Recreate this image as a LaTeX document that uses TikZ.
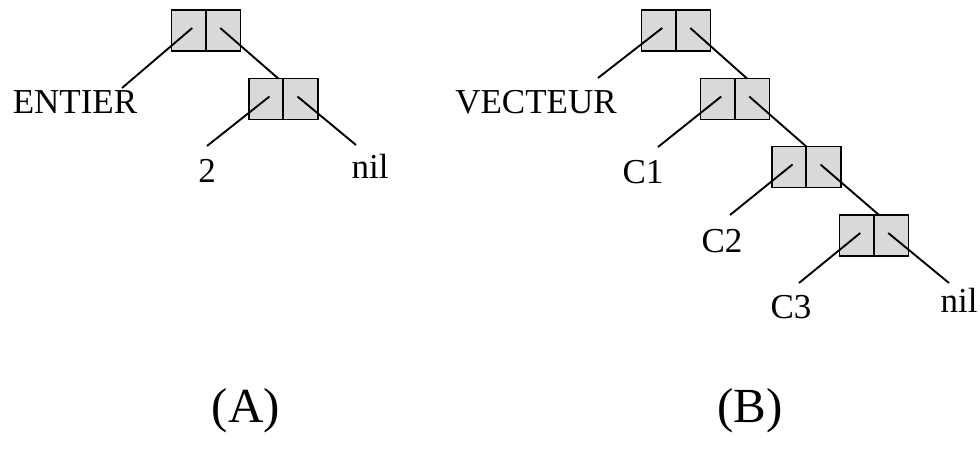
\documentclass[tikz,border=0pt]{standalone}
\usepackage{fontspec}
\setmainfont{Liberation Serif}
\usetikzlibrary{positioning}

\tikzset{
  cell/.style={draw,line width=1.9pt,fill=gray!30,minimum width=34.5pt,
    minimum height=41pt,inner sep=0pt,outer sep=0pt},
  lbl/.style={font=\fontsize{35}{41}\selectfont,anchor=base,inner sep=0pt},
  tag/.style={font=\fontsize{49}{57}\selectfont,anchor=base,inner sep=0pt},
  link/.style={line width=1.9pt}
}

\begin{document}
\begin{tikzpicture}[x=1pt,y=-1pt]
\useasboundingbox (0,0) rectangle (980,452);

% (A) : ENTIER 2
\node[cell] (a1l) at (188.75,30.5) {};
\node[cell,right=0pt of a1l] (a1r) {};
\node[cell] (a2l) at (266,99) {};
\node[cell,right=0pt of a2l] (a2r) {};

\coordinate (eEntier) at (122,88);
\coordinate (eDeux) at (207,146);
\coordinate (eNilA) at (356,145);

\node[lbl] (entier) at (75,113) {ENTIER};
\node[lbl] (deux) at (207,182) {2};
\node[lbl] (nilA) at (370,178) {nil};

\draw[link] ([shift={(3.5,-2.5)}]a1l.center) -- (eEntier);
\draw[link] ([shift={(-3,-2.5)}]a1r.center) -- ([xshift=-5pt]a2l.north east);
\draw[link] ([shift={(3.5,-2.5)}]a2l.center) -- (eDeux);
\draw[link] ([shift={(-3,-2.5)}]a2r.center) -- (eNilA);

% (B) : VECTEUR C1 C2 C3
\node[cell] (b1l) at (658.75,30.5) {};
\node[cell,right=0pt of b1l] (b1r) {};
\node[cell] (b2l) at (717.75,99) {};
\node[cell,right=0pt of b2l] (b2r) {};
\node[cell] (b3l) at (789,167) {};
\node[cell,right=0pt of b3l] (b3r) {};
\node[cell] (b4l) at (856.75,235.5) {};
\node[cell,right=0pt of b4l] (b4r) {};

\coordinate (eVect) at (598,78);
\coordinate (eC1) at (658,147);
\coordinate (eC2) at (730,215);
\coordinate (eC3) at (799,283);
\coordinate (eNilB) at (949,283);

\node[lbl] (vect) at (536,113) {VECTEUR};
\node[lbl] (c1) at (643,183) {C1};
\node[lbl] (c2) at (722,252) {C2};
\node[lbl] (c3) at (791,318) {C3};
\node[lbl] (nilB) at (959,312) {nil};

\draw[link] ([shift={(3.5,-2.5)}]b1l.center) -- (eVect);
\draw[link] ([shift={(-3,-2.5)}]b1r.center) -- ([xshift=12pt]b2l.north east);
\draw[link] ([shift={(3.5,-2.5)}]b2l.center) -- (eC1);
\draw[link] ([shift={(-3,-2.5)}]b2r.center) -- ([xshift=0pt]b3l.north east);
\draw[link] ([shift={(3.5,-2.5)}]b3l.center) -- (eC2);
\draw[link] ([shift={(-3,-2.5)}]b3r.center) -- ([xshift=5pt]b4l.north east);
\draw[link] ([shift={(3.5,-2.5)}]b4l.center) -- (eC3);
\draw[link] ([shift={(-3,-2.5)}]b4r.center) -- (eNilB);

% captions
\node[tag] (capA) at (246,422) {(A)};
\node[tag] (capB) at (750,422) {(B)};
\end{tikzpicture}
\end{document}
